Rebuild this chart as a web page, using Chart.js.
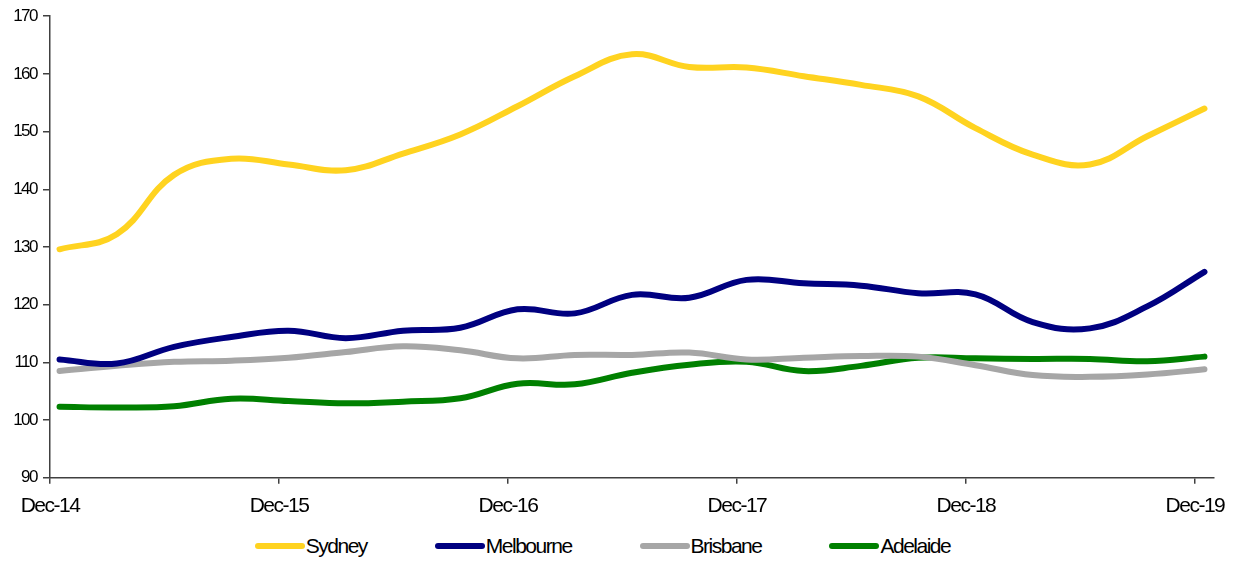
<!DOCTYPE html>
<html>
<head>
<meta charset="utf-8">
<script src="https://cdn.jsdelivr.net/npm/chart.js@4/dist/chart.umd.min.js"></script>
<style>
  html, body { margin: 0; padding: 0; background: #fff; }
  #wrap { width: 1250px; height: 529px; }
  #legend {
    display: flex; justify-content: center; align-items: center;
    width: 1250px; height: 34px; box-sizing: border-box; padding: 0 45px 0 0;
    font-family: 'Liberation Sans', Arial, sans-serif; font-size: 21px;
    letter-spacing: -1.5px; color: #000;
  }
  #legend .item { display: flex; align-items: center; margin: 0 34px; }
  #legend .swatch { width: 50px; height: 6px; border-radius: 3px; margin-right: 1px; }
</style>
</head>
<body>
<div id="wrap"><canvas id="dwellingChart"></canvas></div>
<div id="legend"></div>
<script>
// Quarterly dwelling price index by capital city
const quarters = [
    'Dec-14', 'Mar-15', 'Jun-15', 'Sep-15', 'Dec-15', 'Mar-16', 'Jun-16', 'Sep-16',
    'Dec-16', 'Mar-17', 'Jun-17', 'Sep-17', 'Dec-17', 'Mar-18', 'Jun-18', 'Sep-18',
    'Dec-18', 'Mar-19', 'Jun-19', 'Sep-19', 'Dec-19'
];
const sydney    = [129.6, 132.2, 142.5, 145.3, 144.3, 143.3, 146.2, 149.5, 154.4, 159.6, 163.4, 161.2, 161.1, 159.6, 158.1, 156.1, 150.6, 146.0, 144.3, 149.2, 154.0];
const melbourne = [110.5, 109.8, 112.7, 114.4, 115.5, 114.2, 115.5, 116.0, 119.2, 118.5, 121.7, 121.2, 124.3, 123.7, 123.3, 122.0, 121.8, 117.0, 115.9, 119.7, 125.7];
const brisbane  = [108.5, 109.4, 110.1, 110.3, 110.8, 111.8, 112.8, 112.1, 110.7, 111.3, 111.3, 111.7, 110.5, 110.8, 111.1, 111.0, 109.5, 107.8, 107.5, 107.9, 108.8];
const adelaide  = [102.3, 102.2, 102.4, 103.7, 103.3, 102.9, 103.2, 103.8, 106.3, 106.2, 108.2, 109.6, 110.1, 108.5, 109.4, 110.8, 110.7, 110.6, 110.6, 110.2, 111.0];
const tickLabels = ['Dec-14', 'Dec-15', 'Dec-16', 'Dec-17', 'Dec-18', 'Dec-19'];

const MONTHS = { Jan: 1, Feb: 2, Mar: 3, Apr: 4, May: 5, Jun: 6, Jul: 7, Aug: 8, Sep: 9, Oct: 10, Nov: 11, Dec: 12 };

// months elapsed since Dec-14
function monthOf(label) {
    const [m, y] = label.split('-');
    return (Number(y) - 14) * 12 + MONTHS[m] - 12;
}

// values are plotted mid-month
function toPoints(values) {
    return values.map((v, i) => ({ x: monthOf(quarters[i]) + 0.5, y: v }));
}

const series = [
    { label: 'Sydney', data: sydney, color: '#FFD320' },
    { label: 'Melbourne', data: melbourne, color: '#000080' },
    { label: 'Brisbane', data: brisbane, color: '#A6A6A6' },
    { label: 'Adelaide', data: adelaide, color: '#008000' }
];

const datasets = series.map(s => ({
    label: s.label,
    data: toPoints(s.data),
    borderColor: s.color,
    backgroundColor: s.color,
    borderWidth: 6,
    borderCapStyle: 'round',
    borderJoinStyle: 'round',
    pointRadius: 0,
    tension: 0.4,
    clip: false
}));

const axisColor = '#404040';
const font = 'Liberation Sans, Arial, sans-serif';

// tighter glyph spacing for the axis labels
const condensedText = {
    id: 'condensedText',
    beforeUpdate: chart => { chart.ctx.letterSpacing = '-1.5px'; },
    beforeDraw: chart => { chart.ctx.letterSpacing = '-1.5px'; }
};

const chart = new Chart(document.getElementById('dwellingChart').getContext('2d'), {
    type: 'line',
    data: { datasets },
    plugins: [condensedText],
    options: {
        responsive: true,
        maintainAspectRatio: false,
        animation: false,
        layout: { padding: { top: 15, right: 36, left: 0, bottom: 0 } },
        plugins: {
            tooltip: { enabled: false },
            legend: { display: false }
        },
        scales: {
            x: {
                type: 'linear',
                min: 0,
                max: 61,
                afterBuildTicks: scale => {
                    scale.ticks = tickLabels.map(l => ({ value: monthOf(l) }));
                },
                ticks: {
                    autoSkip: false,
                    maxRotation: 0,
                    padding: 10,
                    color: '#000',
                    font: { family: font, size: 21 },
                    callback: value => tickLabels[tickLabels.findIndex(l => monthOf(l) === value)]
                },
                grid: { drawOnChartArea: false, drawTicks: true, tickLength: 6, color: axisColor, lineWidth: 1.5 },
                border: { display: true, color: axisColor, width: 1.5 }
            },
            y: {
                min: 90,
                max: 170,
                afterFit: scale => { scale.width = 50; },
                ticks: {
                    stepSize: 10,
                    padding: 6,
                    color: '#000',
                    font: { family: font, size: 17 }
                },
                grid: { drawOnChartArea: false, drawTicks: true, tickLength: 7, color: axisColor, lineWidth: 1.5 },
                border: { display: true, color: axisColor, width: 1.5 }
            }
        }
    }
});

// legend under the canvas, built from the datasets
const legendEl = document.getElementById('legend');
chart.data.datasets.forEach(ds => {
    const item = document.createElement('div');
    item.className = 'item';
    const swatch = document.createElement('span');
    swatch.className = 'swatch';
    swatch.style.background = ds.borderColor;
    const text = document.createElement('span');
    text.textContent = ds.label;
    item.appendChild(swatch);
    item.appendChild(text);
    legendEl.appendChild(item);
});
</script>
</body>
</html>
